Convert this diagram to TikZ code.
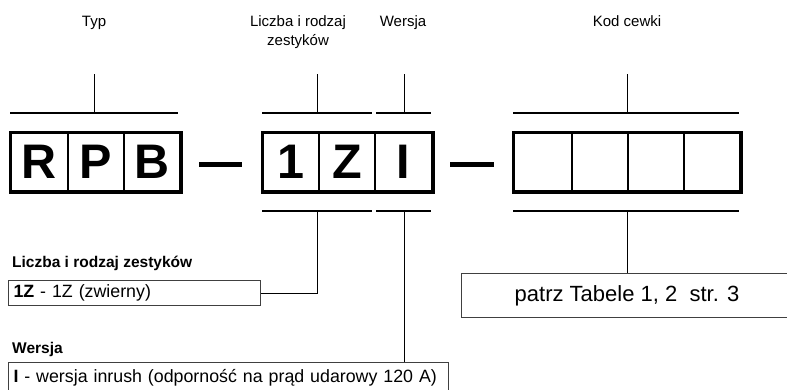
\documentclass[tikz,border=0pt]{standalone}
\usepackage{fontspec}
\setmainfont{Liberation Sans}
\begin{document}
\begin{tikzpicture}[x=1pt,y=-1pt,
  cell/.style={draw, line width=2pt, minimum height=58pt, inner sep=0pt, anchor=north west,
    font=\fontsize{48.5}{48}\selectfont\bfseries},
  outer/.style={line width=3pt},
  bar/.style={line width=5pt},
  brk/.style={line width=1.6pt},
  conn/.style={line width=1pt},
  head/.style={inner sep=0pt, font=\fontsize{15}{19.5}\selectfont, align=center},
  lbl/.style={inner sep=0pt, anchor=base west, font=\fontsize{15.5}{18}\selectfont\bfseries},
  lbox/.style={draw=black!75, line width=1pt, anchor=north west, inner xsep=5pt, inner ysep=0pt,
    align=left, font=\fontsize{17.8}{20}\selectfont},
  pbox/.style={draw=black!75, line width=1pt, anchor=north west, inner sep=0pt,
    font=\fontsize{22}{24}\selectfont}
]
\useasboundingbox (0,0) rectangle (787,389);

% headers
\node[head, anchor=base] (hTyp) at (94,26) {Typ};
\node[head, anchor=north] (hLicz) at (298,15) {Liczba i rodzaj\\zestyków};
\node[head, anchor=base] (hWer) at (403,26) {Wersja};
\node[head, anchor=base] (hKod) at (627,26) {Kod cewki};

% group 1
\node[cell, minimum width=57pt] (c1) at (10,132) {R};
\node[cell, minimum width=56pt] (c2) at (67,132) {P};
\node[cell, minimum width=56pt] (c3) at (123,132) {B};
\draw[outer] (c1.north west) rectangle (c3.south east);

% group 2
\node[cell, minimum width=56pt] (c4) at (262,132) {1};
\node[cell, minimum width=56pt] (c5) at (318,132) {Z};
\node[cell, minimum width=57pt] (c6) at (374,132) {I};
\draw[outer] (c4.north west) rectangle (c6.south east);

% group 3
\node[cell, minimum width=58pt] (c7) at (513,132) {};
\node[cell, minimum width=56pt] (c8) at (571,132) {};
\node[cell, minimum width=56pt] (c9) at (627,132) {};
\node[cell, minimum width=56pt] (c10) at (683,132) {};
\draw[outer] (c7.north west) rectangle (c10.south east);

% dashes
\coordinate (d1a) at (199,164); \coordinate (d1b) at (242,164);
\coordinate (d2a) at (450,164); \coordinate (d2b) at (494,164);
\draw[bar] (d1a) -- (d1b);
\draw[bar] (d2a) -- (d2b);

% top brackets
\coordinate (t1a) at (10,113); \coordinate (t1b) at (178,113);
\coordinate (t1m) at (94,113); \coordinate (t1u) at (94,74);
\draw[brk] (t1a) -- (t1b); \draw[conn] (t1m) -- (t1u);
\coordinate (t2a) at (262,113); \coordinate (t2b) at (372,113);
\coordinate (t2m) at (317,113); \coordinate (t2u) at (317,74);
\draw[brk] (t2a) -- (t2b); \draw[conn] (t2m) -- (t2u);
\coordinate (t3a) at (376,113); \coordinate (t3b) at (431,113);
\coordinate (t3m) at (404,113); \coordinate (t3u) at (404,74);
\draw[brk] (t3a) -- (t3b); \draw[conn] (t3m) -- (t3u);
\coordinate (t4a) at (513,113); \coordinate (t4b) at (739,113);
\coordinate (t4m) at (627,113); \coordinate (t4u) at (627,74);
\draw[brk] (t4a) -- (t4b); \draw[conn] (t4m) -- (t4u);

% bottom brackets
\coordinate (b2a) at (262,211); \coordinate (b2b) at (372,211); \coordinate (b2m) at (317,211);
\coordinate (b3a) at (376,211); \coordinate (b3b) at (431,211); \coordinate (b3m) at (404,211);
\coordinate (b4a) at (513,211); \coordinate (b4b) at (739,211); \coordinate (b4m) at (627,211);
\draw[brk] (b2a) -- (b2b);
\draw[brk] (b3a) -- (b3b);
\draw[brk] (b4a) -- (b4b);

% labels and boxes
\node[lbl] (lLicz) at (12,267) {Liczba i rodzaj zestyków};
\node[lbox, text width=242pt, minimum height=25pt] (bLicz) at (8,280) {\textbf{1Z} - 1Z (zwierny)};
\node[lbl] (lWer) at (12,353) {Wersja};
\node[lbox, text width=430pt, minimum height=31pt] (bWer) at (8,362) {\textbf{I} - wersja inrush (odporność na prąd udarowy 120 A)};
\node[pbox, minimum width=331pt, minimum height=44pt] (bKod) at (461,273) {patrz Tabele 1, 2\ \ str. 3};

% connectors
\draw[conn] (b2m) |- (bLicz.east);
\draw[conn] (b3m) -- (b3m |- bWer.north);
\draw[conn] (b4m) -- (b4m |- bKod.north);
\end{tikzpicture}
\end{document}
